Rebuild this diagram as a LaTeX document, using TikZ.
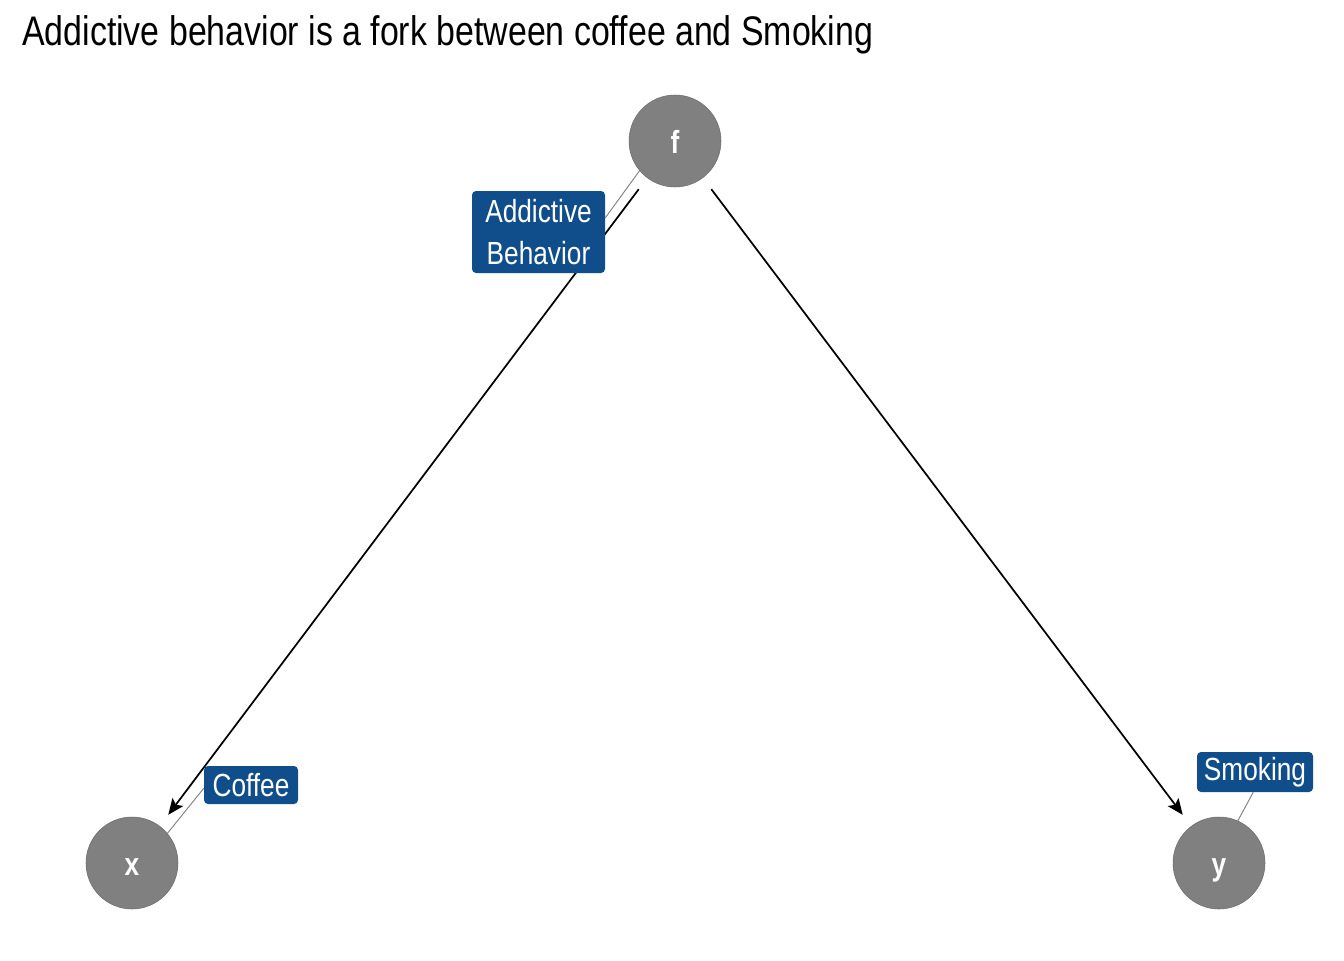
\documentclass[tikz,border=0pt]{standalone}
\usepackage{fontspec}
\setmainfont[FakeStretch=0.82,BoldFont={Liberation Sans Bold}]{Liberation Sans}
\usetikzlibrary{arrows.meta}
\definecolor{labelblue}{HTML}{104E8B}
\begin{document}
\begin{tikzpicture}
[x=0.75pt,y=-0.75pt,
  nodedecorate/.style={shape=circle,minimum size=69pt,inner sep=0pt,fill=gray,draw=gray!85!black,thin,
    text=white,text height=18pt,text depth=0pt,font=\fontsize{24}{28}\selectfont\bfseries},%
  linedecorate/.style={-{Stealth[length=12pt,width=10pt,inset=2.5pt]},line width=1.3pt,
    shorten <=10.5pt,shorten >=10.5pt},%
  leaderdecorate/.style={-,gray,line width=0.7pt},%
  labeldecorate/.style={shape=rectangle,fill=labelblue,rounded corners=3pt,text=white,
    inner sep=0pt,align=center,font=\fontsize{24}{31.5}\selectfont},%
  scale=1]
\useasboundingbox (0,0) rectangle (1344,960);
%% title
\node (title) [anchor=base west,inner sep=0pt,font=\fontsize{31}{36}\selectfont] at (22,45)
  {Addictive behavior is a fork between coffee and Smoking};
%% nodes or vertices
\foreach \nodename/\x/\y in {f/675/141, x/132/863, y/1219/863} {
  \node (\nodename) at (\x,\y) [nodedecorate] {\nodename};
}
%% edges or lines
\path
\foreach \startnode/\endnode in {f/x, f/y} {
  (\startnode) edge[linedecorate] (\endnode)
};
%% labels
\node (fl) at (538.5,232) [labeldecorate,minimum width=99.75pt,minimum height=61.5pt] {Addictive\\Behavior};
\node (xl) at (251,785) [labeldecorate,minimum width=70.5pt,minimum height=28.5pt] {Coffee};
\node (yl) at (1255,772) [labeldecorate,minimum width=87pt,minimum height=30pt] {Smoking};
\path
\foreach \startnode/\sa/\endnode/\ea in {f/220/fl/12, x/40/xl/184, y/66/yl/265} {
  (\startnode.\sa) edge[leaderdecorate] (\endnode.\ea)
};
\end{tikzpicture}
\end{document}
